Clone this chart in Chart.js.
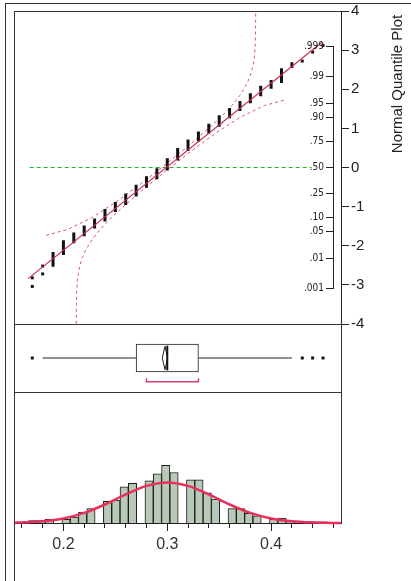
<!DOCTYPE html>
<html>
<head>
<meta charset="utf-8">
<script src="https://cdn.jsdelivr.net/npm/chart.js@4.4.0/dist/chart.umd.min.js"></script>
<style>
  body { margin: 0; background: #fff; }
  #wrap { position: relative; width: 411px; height: 581px; overflow: hidden; }
  .ln { position: absolute; background: #333; }
  canvas { position: absolute; }
</style>
</head>
<body>
<div id="wrap">
  <div class="ln" style="left:5px;top:3px;width:406px;height:1px"></div>
  <div class="ln" style="left:5px;top:3px;width:1px;height:578px"></div>
  <div class="ln" style="left:14px;top:11px;width:327px;height:1px"></div>
  <div class="ln" style="left:14px;top:11px;width:1px;height:570px"></div>
  <div class="ln" style="left:341px;top:11px;width:1px;height:512px"></div>
  <div class="ln" style="left:14px;top:324px;width:327px;height:1px"></div>
  <div class="ln" style="left:14px;top:392px;width:327px;height:1px"></div>
  <canvas id="qq" width="411" height="340" style="left:0;top:0"></canvas>
  <canvas id="prob" width="75" height="275" style="left:263px;top:30px"></canvas>
  <canvas id="box" width="411" height="68" style="left:0;top:324px"></canvas>
  <canvas id="hist" width="411" height="189" style="left:0;top:392px"></canvas>
</div>
<script>
Chart.defaults.font.family = '"Liberation Sans", Arial, sans-serif';
Chart.defaults.animation = false;
Chart.defaults.responsive = false;
Chart.defaults.events = [];
Chart.defaults.plugins.legend.display = false;
Chart.defaults.plugins.tooltip.enabled = false;

// shared data axis
const xMin = 0.1524, xMax = 0.4673;

// histogram bins (centres) and counts
const binCenters = [0.1705, 0.1785, 0.1865, 0.1945, 0.2025, 0.2105, 0.2185, 0.2265, 0.2345, 0.2425,
  0.2505, 0.2585, 0.2665, 0.2745, 0.2825, 0.2905, 0.2985, 0.3065, 0.3145, 0.3225,
  0.3305, 0.3385, 0.3465, 0.3545, 0.3625, 0.3705, 0.3785, 0.3865, 0.3945, 0.4025,
  0.4105, 0.4185, 0.4265, 0.4345, 0.4425, 0.4505];
const binCounts = [2, 2, 3, 0, 3, 5, 9, 12, 0, 18,
  19, 30, 33, 0, 35, 41, 48, 42, 0, 36,
  36, 25, 20, 0, 12, 12, 8, 6, 0, 3,
  4, 1, 1, 0, 1, 1];

// fitted normal curve
const curveX = [0.153, 0.16, 0.18, 0.20, 0.22, 0.24, 0.26, 0.28, 0.30, 0.32, 0.34, 0.36, 0.38, 0.40, 0.42, 0.44, 0.46, 0.467];
const curveY = [0.3, 0.5, 1.5, 3.8, 8.4, 15.4, 23.8, 30.9, 33.8, 30.9, 23.8, 15.4, 8.4, 3.8, 1.5, 0.5, 0.1, 0.1];

// histogram axis ticks
const histTicks = [0.16, 0.18, 0.20, 0.22, 0.24, 0.26, 0.28, 0.30, 0.32, 0.34, 0.36, 0.38, 0.40, 0.42, 0.44, 0.46];
const histMajor = [0.2, 0.3, 0.4];
const histMajorLabels = ['0.2', '0.3', '0.4'];

// normal quantile plot: tied values form vertical columns
const qqValue = [0.19, 0.20, 0.21, 0.22, 0.23, 0.24, 0.25, 0.26, 0.27, 0.28, 0.29, 0.30,
  0.31, 0.32, 0.33, 0.34, 0.35, 0.36, 0.37, 0.38, 0.39, 0.40, 0.41, 0.42];
const qqLow = [-2.50, -2.20, -1.90, -1.72, -1.52, -1.34, -1.10, -0.92, -0.70, -0.48, -0.26, -0.04,
  0.22, 0.46, 0.70, 0.90, 1.08, 1.30, 1.48, 1.68, 1.86, 2.05, 2.20, 2.58];
const qqHigh = [-2.20, -1.90, -1.70, -1.52, -1.34, -1.10, -0.92, -0.70, -0.48, -0.26, -0.06, 0.20,
  0.46, 0.68, 0.88, 1.08, 1.30, 1.48, 1.66, 1.86, 2.05, 2.20, 2.50, 2.65];
const dotX = [0.17, 0.17, 0.18, 0.18, 0.43, 0.44, 0.45];
const dotZ = [-3.04, -2.82, -2.72, -2.52, 2.72, 2.95, 3.12];

// fit line and confidence bands
const fitX = [0.166, 0.449];
const fitZ = [-2.84, 3.20];
const upperBandX = [0.1832, 0.2040, 0.2277, 0.2514, 0.2751, 0.2987, 0.3224, 0.3461, 0.3508, 0.3556,
  0.3604, 0.3651, 0.3698, 0.3745, 0.3769, 0.3793, 0.3817, 0.3831, 0.3841, 0.3847, 0.3850, 0.3853];
const upperBandZ = [-1.735, -1.583, -1.277, -0.868, -0.406, 0.085, 0.599, 1.152, 1.271, 1.398,
  1.531, 1.677, 1.841, 2.038, 2.157, 2.306, 2.506, 2.693, 2.89, 3.17, 3.5, 4.3];
const lowerBandX = [0.2122, 0.2125, 0.2128, 0.2134, 0.2144, 0.2158, 0.2182, 0.2206, 0.2230, 0.2277,
  0.2324, 0.2371, 0.2419, 0.2467, 0.2514, 0.2751, 0.2988, 0.3224, 0.3461, 0.3698, 0.3935, 0.4143];
const lowerBandZ = [-4.3, -3.5, -3.17, -2.89, -2.693, -2.506, -2.306, -2.157, -2.038, -1.841,
  -1.677, -1.531, -1.398, -1.271, -1.152, -0.599, -0.085, 0.406, 0.868, 1.277, 1.583, 1.735];
const zeroLineX = [0.1675, 0.439];

// probability axis
const probTickZ = [-3.0902, -2.3263, -1.6449, -1.2816, -0.6745, 0, 0.6745, 1.2816, 1.6449, 2.3263, 3.0902];
const probTickLabels = ['.001', '.01', '.05', '.10', '.25', '.50', '.75', '.90', '.95', '.99', '.999'];

// box plot
const quartiles = [0.27, 0.33];
const median = 0.30;
const whiskers = [0.18, 0.42];
const outliers = [0.17, 0.43, 0.44, 0.45];
const meanDiamond = [0.2952, 0.2978, 0.3004];
const shortestHalf = [0.28, 0.33];

const pts = (xs, ys) => xs.map((x, i) => ({x: x, y: ys[i]}));

const sideTitle = {
  id: 'sideTitle',
  afterDraw(chart) {
    const c = chart.ctx;
    c.save();
    c.translate(398, 84);
    c.rotate(-Math.PI / 2);
    c.font = '15px "Liberation Sans", Arial, sans-serif';
    c.fillStyle = '#222';
    c.textAlign = 'center';
    c.textBaseline = 'middle';
    c.fillText('Normal Quantile Plot', 0, 0);
    c.restore();
  }
};

const colPts = [];
qqValue.forEach((v, i) => {
  colPts.push({x: v, y: qqLow[i]}, {x: v, y: qqHigh[i]}, {x: v, y: null});
});

new Chart(document.getElementById('qq'), {
  type: 'line',
  data: {
    datasets: [
      {data: pts(fitX, fitZ), borderColor: '#c8304e', borderWidth: 1.2, pointRadius: 0, order: 0},
      {data: colPts, borderColor: '#111', borderWidth: 3, borderCapStyle: 'square', pointRadius: 0, spanGaps: false, order: 1},
      {type: 'scatter', data: pts(dotX, dotZ), pointStyle: 'rect', pointRadius: 2.1, backgroundColor: '#111', borderWidth: 0, order: 1},
      {data: pts(upperBandX, upperBandZ), borderColor: '#d4547c', borderWidth: 1, borderDash: [3, 3], pointRadius: 0, order: 2},
      {data: pts(lowerBandX, lowerBandZ), borderColor: '#d4547c', borderWidth: 1, borderDash: [3, 3], pointRadius: 0, order: 2},
      {data: zeroLineX.map(x => ({x: x, y: 0})), borderColor: '#22b02a', borderWidth: 1.2, borderDash: [4, 3], pointRadius: 0, order: 3}
    ]
  },
  options: {
    layout: {padding: {left: 14, top: 11, right: 0, bottom: 16}},
    scales: {
      x: {type: 'linear', min: xMin, max: xMax, offset: false, display: false},
      y: {
        type: 'linear', position: 'right', min: -4, max: 4,
        ticks: {stepSize: 1, font: {size: 15}, color: '#222', padding: 2},
        grid: {drawOnChartArea: false, tickLength: 8, color: '#222'},
        border: {display: true, color: '#222', width: 1},
        afterFit(s) { s.width = 70; s.paddingTop = 0; s.paddingBottom = 0; }
      }
    }
  },
  plugins: [sideTitle]
});

new Chart(document.getElementById('prob'), {
  type: 'line',
  data: {datasets: [{data: []}]},
  options: {
    layout: {padding: {left: 0, right: 0, top: 16.6, bottom: 16.6}},
    scales: {
      x: {type: 'linear', min: 0, max: 1, display: false},
      y: {
        type: 'linear', position: 'left', min: probTickZ[0], max: probTickZ[probTickZ.length - 1],
        afterBuildTicks(s) { s.ticks = probTickZ.map(v => ({value: v})); },
        ticks: {
          autoSkip: false, padding: 2, color: '#222',
          font: {size: 10, family: '"Liberation Sans Narrow", "DejaVu Sans Condensed", Arial, sans-serif'},
          callback: (v, i) => probTickLabels[i]
        },
        grid: {drawOnChartArea: false, tickLength: 7, color: '#222'},
        border: {display: true, color: '#222', width: 1},
        afterFit(s) { s.width = 70; s.paddingTop = 0; s.paddingBottom = 0; }
      }
    }
  }
});

const boxHalf = 0.206;   // half box height in panel units
new Chart(document.getElementById('box'), {
  type: 'bar',
  data: {
    datasets: [
      {type: 'bar', indexAxis: 'y', data: [{x: quartiles, y: 0.5}], backgroundColor: '#fff',
        borderColor: '#222', borderWidth: 1, borderSkipped: false, barThickness: 28, order: 3},
      {type: 'line', data: [{x: whiskers[0], y: 0.5}, {x: quartiles[0], y: 0.5}], borderColor: '#222', borderWidth: 1, pointRadius: 0, order: 2},
      {type: 'line', data: [{x: quartiles[1], y: 0.5}, {x: whiskers[1], y: 0.5}], borderColor: '#222', borderWidth: 1, pointRadius: 0, order: 2},
      {type: 'line', data: [{x: median, y: 0.5 - boxHalf}, {x: median, y: 0.5 + boxHalf}], borderColor: '#111', borderWidth: 2, pointRadius: 0, order: 1},
      {type: 'line', data: [
        {x: meanDiamond[0], y: 0.5}, {x: meanDiamond[1], y: 0.5 + boxHalf * 0.95},
        {x: meanDiamond[2], y: 0.5}, {x: meanDiamond[1], y: 0.5 - boxHalf * 0.95},
        {x: meanDiamond[0], y: 0.5}], borderColor: '#222', borderWidth: 1, pointRadius: 0, order: 1},
      {type: 'line', data: [
        {x: shortestHalf[0], y: 0.162}, {x: shortestHalf[0], y: 0.103},
        {x: shortestHalf[1], y: 0.103}, {x: shortestHalf[1], y: 0.162}], borderColor: '#d4406a', borderWidth: 1.5, pointRadius: 0, order: 1},
      {type: 'scatter', data: outliers.map(x => ({x: x, y: 0.5})), pointStyle: 'rect', pointRadius: 2.1, backgroundColor: '#111', borderWidth: 0, order: 0}
    ]
  },
  options: {
    layout: {padding: {left: 14, right: 70, top: 0, bottom: 0}},
    scales: {
      x: {type: 'linear', min: xMin, max: xMax, offset: false, display: false},
      y: {type: 'linear', min: 0, max: 1, offset: false, display: false}
    }
  }
});

const isMajor = v => histMajor.some(m => Math.abs(m - v) < 1e-6);
new Chart(document.getElementById('hist'), {
  type: 'bar',
  data: {
    datasets: [
      {type: 'line', data: pts(curveX, curveY), borderColor: '#e8305a', borderWidth: 2.5, pointRadius: 0,
        cubicInterpolationMode: 'monotone', clip: 4, order: 0},
      {type: 'bar', data: pts(binCenters, binCounts), backgroundColor: '#b9c9b9', borderColor: '#1a1a1a',
        borderWidth: {top: 1, left: 1, right: 1, bottom: 0}, barPercentage: 1, categoryPercentage: 1, order: 1}
    ]
  },
  options: {
    layout: {padding: {left: 14, right: 70, top: 0, bottom: 18}},
    scales: {
      x: {
        type: 'linear', min: xMin, max: xMax, offset: false,
        afterBuildTicks(s) { s.ticks = histTicks.map(v => ({value: v})); },
        ticks: {
          autoSkip: false, maxRotation: 0, padding: 4, color: '#333', font: {size: 16},
          callback: v => {
            const i = histMajor.findIndex(m => Math.abs(m - v) < 1e-6);
            return i >= 0 ? histMajorLabels[i] : '';
          }
        },
        grid: {drawOnChartArea: false, offset: false, tickLength: 8, color: '#222',
          tickBorderDash: ctx => (ctx.tick && !isMajor(ctx.tick.value)) ? [4, 20] : []},
        border: {display: true, color: '#222', width: 1},
        afterFit(s) { s.height = 40; s.paddingLeft = 0; s.paddingRight = 0; }
      },
      y: {type: 'linear', min: 0, max: 109, display: false}
    }
  }
});
</script>
</body>
</html>
